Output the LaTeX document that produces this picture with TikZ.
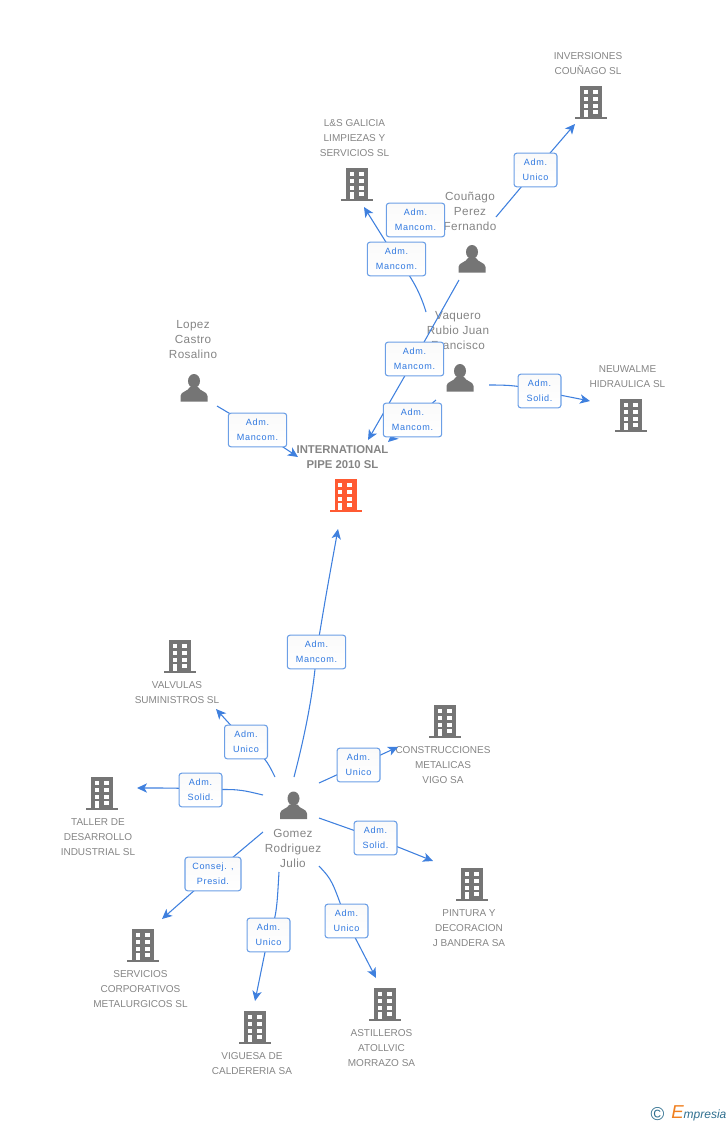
\documentclass[tikz,border=0pt]{standalone}
\usepackage{fontspec}
\setmainfont{Liberation Sans}
\newfontfamily\relfont[LetterSpace=7]{Liberation Sans}
\newfontfamily\perfont[LetterSpace=3]{Liberation Sans}
\usetikzlibrary{arrows.meta}
\definecolor{bldgrey}{HTML}{757575}
\definecolor{txtgrey}{HTML}{858585}
\definecolor{linkblue}{HTML}{3F80DE}
\definecolor{boxblue}{HTML}{6C9FE6}
\definecolor{reltext}{HTML}{2F78E0}
\definecolor{mainred}{HTML}{FF5A32}
\definecolor{logoteal}{HTML}{2F6F8F}
\definecolor{logoorange}{HTML}{F08020}
\pgfdeclarelayer{texts}
\pgfdeclarelayer{links}
\pgfsetlayers{texts,links,main}
\tikzset{>={Stealth[length=7.5pt,width=7pt,inset=2pt]}}
\tikzset{
  building/.pic = {
    \fill[pic actions] (-11,-16.5) rectangle (11,14.5);
    \fill[pic actions] (-16,14.5) rectangle (16,16.5);
    \foreach \Y in {-12.5,-5.5,1.5} {
      \fill[white] (-7.5,\Y) rectangle +(4,4);
      \fill[white] (1.5,\Y) rectangle +(5,4);
    }
    \fill[white] (1.5,7.5) rectangle +(5,4);
    \fill[white] (-7.5,7.5) rectangle (-3.5,14.5);
  },
  person/.pic = {
    \fill[bldgrey] (0,-7) ellipse (6 and 7);
    \fill[bldgrey] (-13.5,13.5) -- (-13.5,8) .. controls (-13.5,3.5) and (-6,3.5) .. (-4,-1)
      -- (4,-1) .. controls (6,3.5) and (13.5,3.5) .. (13.5,8) -- (13.5,13.5) -- cycle;
  },
  nametext/.style = {text=txtgrey, align=center, inner sep=0pt,
    font=\fontsize{7.5}{11.25}\selectfont},
  pertext/.style = {nametext, font=\perfont\fontsize{8.8}{11.25}\selectfont},
  relbox/.style = {draw=boxblue, line width=0.8pt, rounded corners=2pt,
    top color=gray!4, bottom color=white, text=reltext, align=center, inner sep=0pt,
    minimum width=32.2pt, minimum height=25.2pt,
    font=\relfont\fontsize{6.8}{11.25}\selectfont},
  widebox/.style = {relbox, minimum width=43.8pt},
  link/.style = {draw=linkblue, line width=0.8pt}
}

\begin{document}
\begin{tikzpicture}[x=0.75pt,y=-0.75pt]
  \useasboundingbox (0,0) rectangle (728,1125);
  % buildings and people
  \foreach \N/\X/\Y in {inversiones/591/102,lsgalicia/357/184,neuwalme/631/415,
    valvulas/180/656,construcciones/445/721,taller/102/793,pintura/472/884,
    servicios/143/945,viguesa/255/1027,astilleros/385/1004} {
    \pic[fill=bldgrey] (\N) at (\X,\Y) {building};
  }
  \pic[fill=mainred] (international) at (345.5,495.5) {building};
  \foreach \N/\X/\Y in {cunago/472/259,vaquero/460/378,lopez/194/388,gomez/293.5/805.5} {
    \pic (\N) at (\X,\Y) {person};
  }
  % names
  \begin{pgfonlayer}{texts}
    \node[nametext] (tinversiones) at (588,63.5) {INVERSIONES\\COUÑAGO SL};
    \node[nametext] (tlsgalicia) at (354.5,138.5) {L\&S GALICIA\\LIMPIEZAS Y\\SERVICIOS SL};
    \node[nametext] (tneuwalme) at (627.5,376.5) {NEUWALME\\HIDRAULICA SL};
    \node[nametext] (tvalvulas) at (177,692.5) {VALVULAS\\SUMINISTROS SL};
    \node[nametext] (tconstrucciones) at (443,765) {CONSTRUCCIONES\\METALICAS\\VIGO SA};
    \node[nametext] (ttaller) at (98,837) {TALLER DE\\DESARROLLO\\INDUSTRIAL SL};
    \node[nametext] (tpintura) at (469,928) {PINTURA Y\\DECORACION\\J BANDERA SA};
    \node[nametext] (tservicios) at (140.5,989) {SERVICIOS\\CORPORATIVOS\\METALURGICOS SL};
    \node[nametext] (tviguesa) at (252,1063.5) {VIGUESA DE\\CALDERERIA SA};
    \node[nametext] (tastilleros) at (381.5,1048) {ASTILLEROS\\ATOLLVIC\\MORRAZO SA};
    \node[nametext,font=\bfseries\fontsize{8.5}{11.25}\selectfont] (tinternational) at (342.5,457) {INTERNATIONAL\\PIPE 2010 SL};
    \node[pertext] (tcunago) at (470,211) {Couñago\\Perez\\Fernando};
    \node[pertext] (tvaquero) at (458,331) {Vaquero\\Rubio Juan\\Francisco};
    \node[pertext] (tlopez) at (193,340) {Lopez\\Castro\\Rosalino};
    \node[pertext] (tgomez) at (293,848) {Gomez\\Rodriguez\\Julio};
  \end{pgfonlayer}
  % roles
  \node[widebox] (rgomezint) at (316.5,652) {Adm.\\Mancom.};
  \node[relbox] (rvalvulas) at (246,742) {Adm.\\Unico};
  \node[relbox] (rtaller) at (200.5,790) {Adm.\\Solid.};
  \node[relbox] (rconstr) at (358.5,765) {Adm.\\Unico};
  \node[relbox] (rpintura) at (375.5,838) {Adm.\\Solid.};
  \node[relbox] (rastill) at (346.5,921) {Adm.\\Unico};
  \node[relbox] (rviguesa) at (268.5,935) {Adm.\\Unico};
  \node[widebox,minimum width=42pt] (rservicios) at (213,874) {Consej. ,\\Presid.};
  \node[widebox] (rlopez) at (257.5,430) {Adm.\\Mancom.};
  \node[relbox] (rinvers) at (535.5,170) {Adm.\\Unico};
  \node[widebox] (rcunagols) at (415.5,220) {Adm.\\Mancom.};
  \node[widebox] (rvaquerols) at (396.5,259) {Adm.\\Mancom.};
  \node[widebox] (rcunagoint) at (414.5,359) {Adm.\\Mancom.};
  \node[widebox] (rvaqueroint) at (412.5,420) {Adm.\\Mancom.};
  \node[relbox] (rneuwalme) at (539.5,391) {Adm.\\Solid.};
  % free ends of the connectors
  \foreach \N/\X/\Y in {a1/294/777,b1/338/529,a2/275/777,b2/216/709,a3/263/795,b3/137/788,
    a4/319/783,b4/398/747,a5/319/818,b5/433/861,a6/319/866,b6/376/978,a7/279/872,b7/255/1001,
    a8/263/832,b8/162/919,a9/217/406,b9/298/457,a10/496/217,b10/575/124,a11/426/312,b11/364/207,
    a12/459/280,b12/368/440,a13/436/400,b13/388/442,a14/489/385,b14/590/401} {
    \coordinate (\N) at (\X,\Y);
  }
  \begin{pgfonlayer}{links}
    \draw[link] (a1) .. controls (305,735) and (314,690) .. (rgomezint.center);
    \draw[link,->] (rgomezint.center) .. controls (326,595) .. (b1);
    \draw[link] (a2) .. controls (266,759) .. (rvalvulas.center);
    \draw[link,->] (rvalvulas.center) -- (b2);
    \draw[link] (a3) .. controls (238,789) .. (rtaller.center);
    \draw[link,->] (rtaller.center) .. controls (180,788) .. (b3);
    \draw[link] (a4) -- (rconstr.center);
    \draw[link,->] (rconstr.center) -- (b4);
    \draw[link] (a5) -- (rpintura.center);
    \draw[link,->] (rpintura.center) -- (b5);
    \draw[link] (a6) .. controls (332,880) .. (rastill.center);
    \draw[link,->] (rastill.center) -- (b6);
    \draw[link] (a7) .. controls (277,905) and (277,918) .. (rviguesa.center);
    \draw[link,->] (rviguesa.center) -- (b7);
    \draw[link] (a8) -- (rservicios.center);
    \draw[link,->] (rservicios.center) -- (b8);
    \draw[link] (a9) -- (rlopez.center);
    \draw[link,->] (rlopez.center) -- (b9);
    \draw[link] (a10) -- (rinvers.center);
    \draw[link,->] (rinvers.center) -- (b10);
    \draw[link] (a11) .. controls (421,295) and (412,276) .. (rvaquerols.center);
    \draw[link,->] (rvaquerols.center) -- (b11);
    \draw[link] (a12) -- (rcunagoint.center);
    \draw[link,->] (rcunagoint.center) -- (b12);
    \draw[link] (a13) -- (rvaqueroint.center);
    \draw[link,->] (rvaqueroint.center) -- (b13);
    \draw[link] (a14) .. controls (505,385) and (518,385) .. (rneuwalme.center);
    \draw[link,->] (rneuwalme.center) -- (b14);
  \end{pgfonlayer}
  % logo
  \node[text=logoteal,inner sep=0pt,font=\fontsize{14}{14}\selectfont] (copyr) at (657.5,1114) {©};
  \node[text=logoteal,inner sep=0pt,anchor=base west,font=\itshape\fontsize{9}{10}\selectfont] (logo) at (671,1118)
    {\textcolor{logoorange}{\fontsize{14}{14}\selectfont E}mpresia};
\end{tikzpicture}
\end{document}
